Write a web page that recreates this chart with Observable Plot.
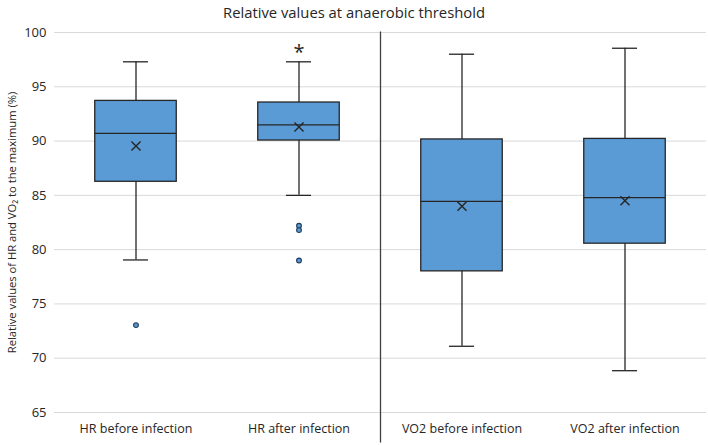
<!DOCTYPE html>
<html><head><meta charset="utf-8">
<script src="https://cdn.jsdelivr.net/npm/d3@7"></script>
<script src="https://cdn.jsdelivr.net/npm/@observablehq/plot@0.6"></script>
<style>
body{margin:0;background:#fff;font-family:"Open Sans",sans-serif;}
#title{height:22px;line-height:24px;text-align:center;font-size:14.8px;color:#262626;width:708px;}
</style></head><body>
<div id="title">Relative values at anaerobic threshold</div>
<div id="chart"></div>
<script>
const categories = ["HR before infection","HR after infection","VO2 before infection","VO2 after infection"];
const whiskerLow = [79.05, 85.0, 71.1, 68.85];
const q1 = [86.25, 90.05, 78.0, 80.55];
const median = [90.7, 91.5, 84.45, 84.8];
const mean = [89.55, 91.3, 84.0, 84.5];
const q3 = [93.7, 93.55, 90.15, 90.2];
const whiskerHigh = [97.3, 97.3, 98.0, 98.55];
const outlierCat = [0, 1, 1, 1];
const outlierVal = [73.05, 82.2, 81.8, 79.0];
const yTicks = [65, 70, 75, 80, 85, 90, 95, 100];
const significance = [{cat: 1, y: 98.6, label: "*"}];
const dividerAt = [1.5];

const boxes = categories.map((c, i) => ({i, c, lo: whiskerLow[i], q1: q1[i], med: median[i], mean: mean[i], q3: q3[i], hi: whiskerHigh[i]}));
const outliers = outlierCat.map((c, k) => ({i: c, v: outlierVal[k]}));

const halfBox = 0.25, halfCap = 0.077;
const ink = "#262626";

const chart = Plot.plot({
  width: 708, height: 423,
  marginLeft: 54, marginRight: 2, marginTop: 10, marginBottom: 33,
  style: {fontFamily: "Open Sans, sans-serif", fontSize: "12.5px", color: "#262626", background: "#fff"},
  x: {type: "linear", domain: [-0.5, 3.5], axis: null},
  y: {domain: [65, 100], ticks: yTicks, label: null, axis: null},
  marks: [
    Plot.ruleY(yTicks, {stroke: "#d9d9d9", strokeWidth: 1}),
    Plot.axisY({ticks: yTicks, tickSize: 0, tickPadding: 8, fontSize: 13, label: null}),
    Plot.text(boxes, {x: "i", y: 65, text: "c", dy: 16, fontSize: 12.5, fill: ink}),
    Plot.text(["Relative values of HR and VO₂ to the maximum (%)"], {frameAnchor: "left", textAnchor: "middle", dx: -42, rotate: -90, fontSize: 11.2, fill: ink, text: d => d}),
    Plot.ruleX(dividerAt, {x: d => d, y1: 100.05, y2: 62.2, stroke: "#404040", strokeWidth: 1.3, clip: false}),
    Plot.ruleX(boxes, {x: "i", y1: "lo", y2: "hi", stroke: ink, strokeWidth: 1.3}),
    Plot.ruleY(boxes, {y: "lo", x1: d => d.i - halfCap, x2: d => d.i + halfCap, stroke: ink, strokeWidth: 1.3}),
    Plot.ruleY(boxes, {y: "hi", x1: d => d.i - halfCap, x2: d => d.i + halfCap, stroke: ink, strokeWidth: 1.3}),
    Plot.rect(boxes, {x1: d => d.i - halfBox, x2: d => d.i + halfBox, y1: "q1", y2: "q3", fill: "#5b9bd5", stroke: ink, strokeWidth: 1.3}),
    Plot.ruleY(boxes, {y: "med", x1: d => d.i - halfBox, x2: d => d.i + halfBox, stroke: ink, strokeWidth: 1.3}),
    Plot.dot(boxes, {x: "i", y: "mean", symbol: "times", r: 4.2, stroke: ink, strokeWidth: 1.4}),
    Plot.dot(outliers, {x: "i", y: "v", r: 2.4, fill: "#5b9bd5", stroke: "#1f3b5a", strokeWidth: 1.1}),
    Plot.text(significance, {x: "cat", y: "y", text: "label", fontSize: 20, fill: ink, dy: 5})
  ]
});
document.getElementById("chart").appendChild(chart);
</script></body></html>
